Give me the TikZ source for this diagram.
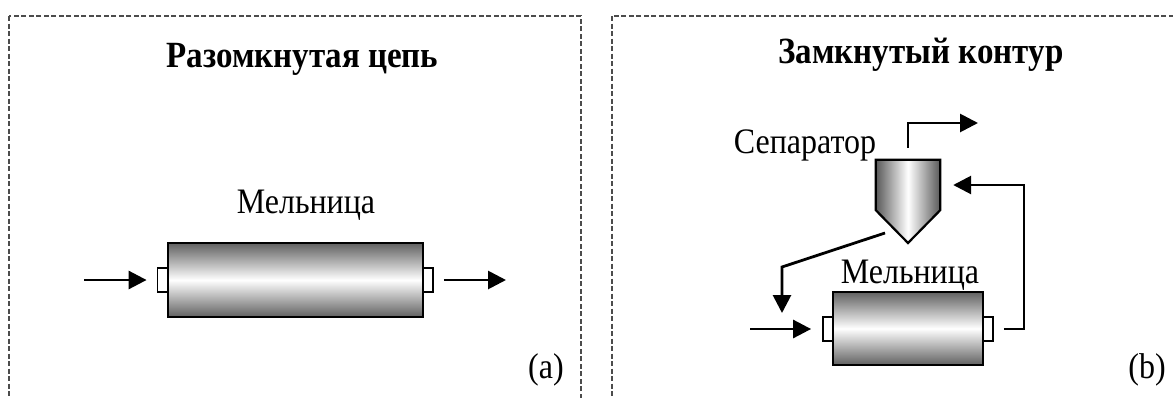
\documentclass[tikz,border=0pt]{standalone}
\usepackage{fontspec}
\setmainfont{Liberation Serif}
\usetikzlibrary{arrows.meta,calc}

% text in this figure is set slightly narrow and tall
\newcommand{\vstretch}[1]{\scalebox{1}[1.12]{#1}}

\tikzset{
  frame/.style={draw=black!70, line width=1.4pt, dash pattern=on 5pt off 2.5pt},
  label/.style={inner sep=0pt, anchor=base, font=\fontsize{32}{38}\selectfont},
  heading/.style={label, font=\fontsize{33}{40}\selectfont\bfseries},
  mill/.style={draw=black, line width=2.2pt, inner sep=0pt,
    top color=black!62, bottom color=black!62, middle color=white},
  nub/.style={draw=black, line width=1.8pt, fill=white, inner sep=0pt,
    minimum width=10pt, minimum height=24pt},
  flow/.style={draw=black, line width=2.8pt,
    -{Triangle[length=18pt,width=18pt]}},
  sepshade/.style={draw=black, line width=2.2pt,
    left color=black!65, right color=black!65, middle color=white},
}

\begin{document}
\begin{tikzpicture}[x=1pt, y=-1pt]
  \useasboundingbox (0,0) rectangle (1173,397);
  \clip (0,0) rectangle (1173,397);

  % panel frames
  \draw[frame] (9,16) rectangle (581,420);
  \draw[frame] (612,16) rectangle (1190,420);

  % ---- (a) open circuit ----
  \node[heading] (titleA) at (302.5,67) {\vstretch{Разомкнутая цепь}};
  \node[label] (millAtext) at (306,213) {\vstretch{Мельница}};
  \node[nub] (nubL1) at (162.5,280) {};
  \node[nub] (nubR1) at (428,280) {};
  \node[mill, minimum width=255pt, minimum height=74pt] (mill1) at (295.5,280) {};
  \coordinate (in1) at (84,280);
  \coordinate (out1) at (506,280);
  \draw[flow, shorten >=10pt] (in1) -- (nubL1.west);
  \draw[flow, shorten <=10pt] (nubR1.east) -- (out1);
  \node[label] (capA) at (546,378) {\vstretch{(a)}};

  % ---- (b) closed circuit ----
  \node[heading] (titleB) at (921,63) {\vstretch{Замкнутый контур}};
  \node[label] (septext) at (805,153) {\vstretch{Сепаратор}};
  \node[label] (millBtext) at (910,283) {\vstretch{Мельница}};

  % separator: cylinder with a cone below
  \node[inner sep=0pt, minimum width=64pt, minimum height=50pt] (sep) at (908,185) {};
  \path[sepshade] (sep.north west) -- (sep.north east) -- (sep.south east)
    -- (908,243) -- (sep.south west) -- cycle;

  % mill
  \node[nub] (nubL2) at (828,329) {};
  \node[nub] (nubR2) at (988,329) {};
  \node[mill, minimum width=150pt, minimum height=73pt] (mill2) at (908,328.5) {};

  \coordinate (prod) at (978,123);
  \coordinate (feed2) at (750,329);
  \coordinate (retc) at (1024,185);
  \coordinate (ufs) at (885,233);
  \coordinate (ufb) at (782,267);
  \coordinate (ufe) at (782,313);

  \draw[flow, shorten <=12pt] (sep.north) |- (prod);
  \draw[flow, shorten >=11pt] (feed2) -- (nubL2.west);
  \draw[flow, shorten <=10pt, shorten >=13pt] (nubR2.east) -| (retc) -- (sep.east);
  \draw[flow] (ufs) -- (ufb) -- (ufe);

  \node[label] (capB) at (1147,378) {\vstretch{(b)}};
\end{tikzpicture}
\end{document}
